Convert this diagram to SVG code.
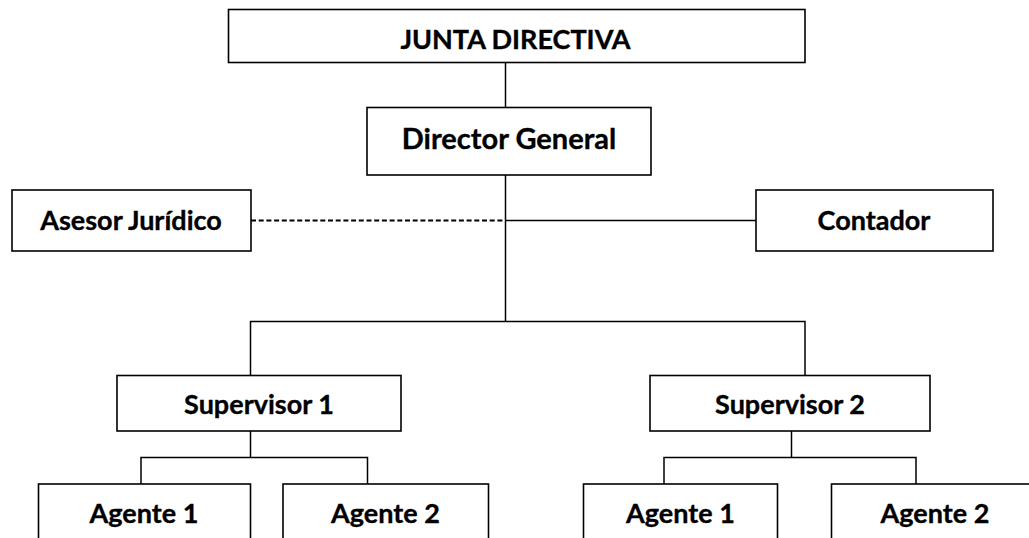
<svg xmlns="http://www.w3.org/2000/svg" width="1029" height="538" viewBox="0 0 1029 538">
<style>
.box{fill:#fff;stroke:#000;stroke-width:1.6}
.lbl{font-family:Lato,"Liberation Sans",sans-serif;font-weight:bold;font-size:27px;fill:#000;text-anchor:middle;stroke:#000;stroke-width:0.35}
.big{font-size:29px}
.ln{fill:none;stroke:#000;stroke-width:1.5}
.dash{fill:none;stroke:#000;stroke-width:1.8;stroke-dasharray:5 2.7}
</style>
<rect width="1029" height="538" fill="#fff"/>
<g id="connectors">
<line class="ln" x1="505.5" y1="62.5" x2="505.5" y2="107.5"/>
<line class="ln" x1="505.5" y1="175" x2="505.5" y2="321.5"/>
<line class="dash" x1="251" y1="220.5" x2="505.5" y2="220.5"/>
<line class="ln" x1="505.5" y1="220.5" x2="756" y2="220.5"/>
<polyline class="ln" points="250.5,375.5 250.5,321.5 805,321.5 805,375.5"/>
<line class="ln" x1="250.5" y1="431" x2="250.5" y2="457.5"/>
<polyline class="ln" points="141,484 141,457.5 367.5,457.5 367.5,484"/>
<line class="ln" x1="791.5" y1="431" x2="791.5" y2="457.5"/>
<polyline class="ln" points="664,484 664,457.5 916,457.5 916,484"/>
</g>
<g id="junta">
<rect class="box" x="228.5" y="9.5" width="576.5" height="53"/>
<text class="lbl" x="515.5" y="48.5">JUNTA DIRECTIVA</text>
</g>
<g id="director">
<rect class="box" x="367" y="107.5" width="284" height="67.5"/>
<text class="lbl big" x="509" y="148.5">Director General</text>
</g>
<g id="asesor">
<rect class="box" x="12" y="190" width="239" height="61"/>
<text class="lbl" x="131" y="230">Asesor Jurídico</text>
</g>
<g id="contador">
<rect class="box" x="756" y="190" width="237" height="61"/>
<text class="lbl" x="874" y="230">Contador</text>
</g>
<g id="supervisor1">
<rect class="box" x="117" y="375.5" width="284" height="55.5"/>
<text class="lbl" x="259" y="414">Supervisor 1</text>
</g>
<g id="supervisor2">
<rect class="box" x="650" y="375.5" width="280" height="55.5"/>
<text class="lbl" x="790" y="414">Supervisor 2</text>
</g>
<g id="s1-agente1">
<rect class="box" x="38.5" y="484" width="212" height="70"/>
<text class="lbl" x="144" y="522.5">Agente 1</text>
</g>
<g id="s1-agente2">
<rect class="box" x="283" y="484" width="205.5" height="70"/>
<text class="lbl" x="385.5" y="522.5">Agente 2</text>
</g>
<g id="s2-agente1">
<rect class="box" x="583.5" y="484" width="194" height="70"/>
<text class="lbl" x="680.5" y="522.5">Agente 1</text>
</g>
<g id="s2-agente2">
<rect class="box" x="831.5" y="484" width="207" height="70"/>
<text class="lbl" x="935" y="522.5">Agente 2</text>
</g>
</svg>
